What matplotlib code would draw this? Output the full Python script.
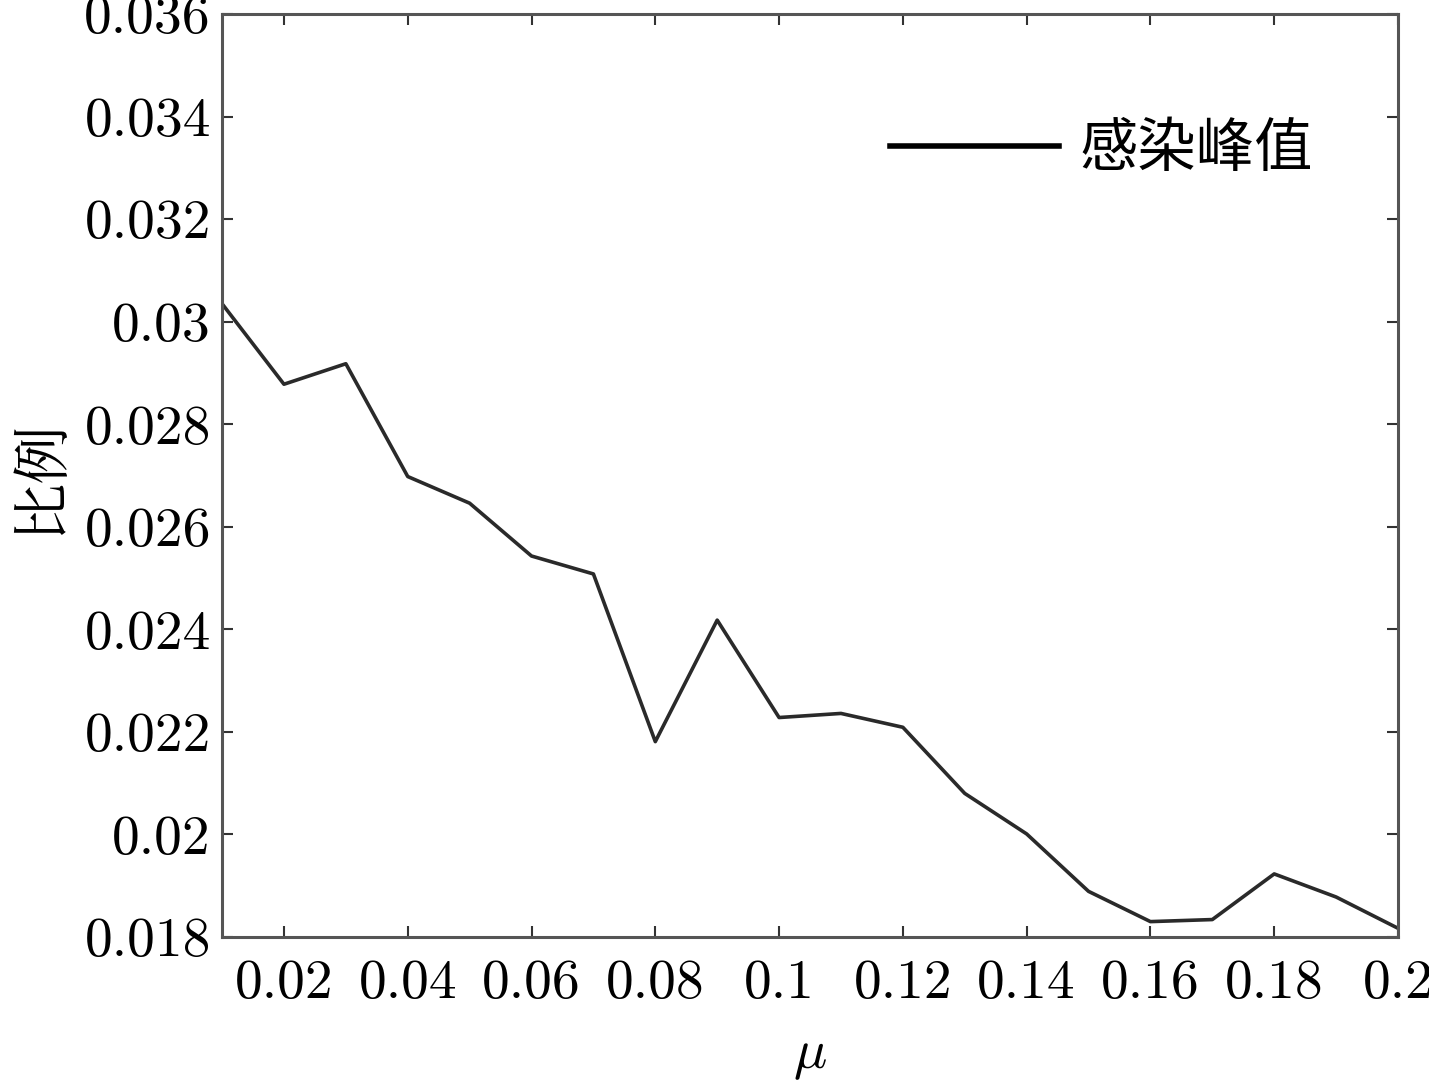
import matplotlib.pyplot as plt
import numpy as np

plt.rcParams['mathtext.fontset'] = 'cm'
plt.rcParams['axes.formatter.use_mathtext'] = True

mu = [0.01, 0.02, 0.03, 0.04, 0.05, 0.06, 0.07, 0.08, 0.09, 0.10,
      0.11, 0.12, 0.13, 0.14, 0.15, 0.16, 0.17, 0.18, 0.19, 0.20]
peak = [0.03035, 0.02878, 0.02918, 0.02698, 0.02646, 0.02543, 0.02508, 0.02181, 0.02418, 0.02228,
        0.02236, 0.02209, 0.02080, 0.02001, 0.01889, 0.01830, 0.01834, 0.01923, 0.01878, 0.01817]

xticks = [0.02, 0.04, 0.06, 0.08, 0.1, 0.12, 0.14, 0.16, 0.18, 0.2]
xtick_labels = ["0.02", "0.04", "0.06", "0.08", "0.1", "0.12", "0.14", "0.16", "0.18", "0.2"]
yticks = [0.018, 0.02, 0.022, 0.024, 0.026, 0.028, 0.03, 0.032, 0.034, 0.036]
ytick_labels = ["0.018", "0.02", "0.022", "0.024", "0.026", "0.028", "0.03", "0.032", "0.034", "0.036"]

fig = plt.figure(figsize=(14.29, 10.87), dpi=100)
ax = fig.add_axes([0.1554, 0.138, 0.8229, 0.8491])

ax.plot(mu, peak, color="#2a2a2a", linewidth=2.6, label="感染峰值")

ax.set_xlim(0.01, 0.2)
ax.set_ylim(0.018, 0.036)
ax.set_xticks(xticks)
ax.set_xticklabels(xtick_labels, fontfamily="cmr10", fontsize=40)
ax.set_yticks(yticks)
ax.set_yticklabels(ytick_labels, fontfamily="cmr10", fontsize=40)
ax.tick_params(axis="y", direction="in", length=8, width=1.5, right=True,
               color="#333333", pad=8)
ax.tick_params(axis="x", direction="in", length=8, width=1.5, top=True,
               color="#333333", pad=16)

for s in ax.spines.values():
    s.set_color("#555555")
    s.set_linewidth(2.2)

ax.set_xlabel(r"$\mu$", fontsize=40, labelpad=14)
ax.set_ylabel("比例", fontfamily=["Noto Serif CJK SC", "Noto Sans CJK SC", "DejaVu Sans"],
              fontsize=42, labelpad=10)

leg = ax.legend(loc="center right", bbox_to_anchor=(0.928, 0.853), frameon=False,
                prop={"family": ["Noto Sans CJK SC", "DejaVu Sans"], "size": 42},
                handlelength=2.9, handletextpad=0.36, borderpad=0, borderaxespad=0)
for line in leg.get_lines():
    line.set_linewidth(4)
    line.set_color("black")

fig.savefig("out.png", dpi=100)
